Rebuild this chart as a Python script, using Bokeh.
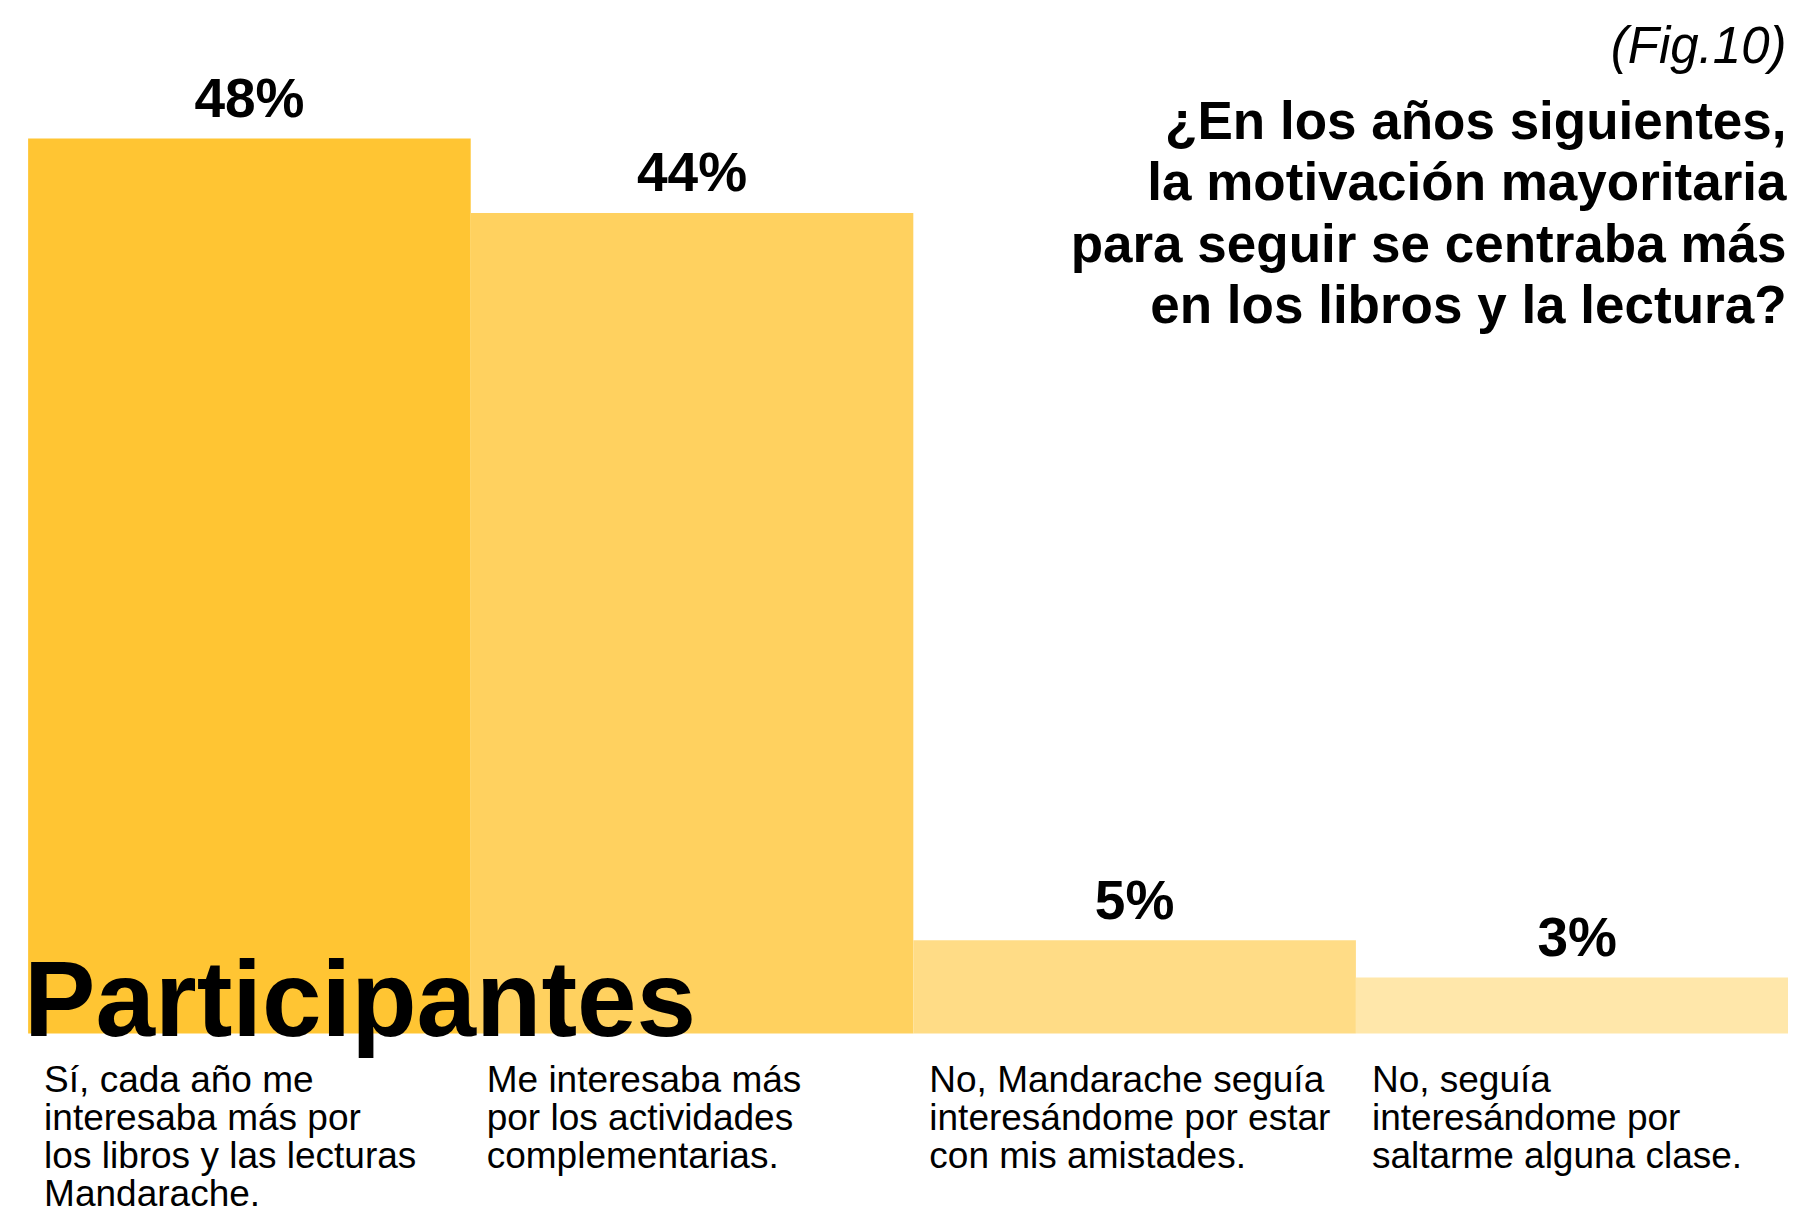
from bokeh.plotting import figure
from bokeh.models import ColumnDataSource, Range1d, Label
from bokeh.core.properties import value
from bokeh.embed import file_html
from bokeh.resources import INLINE
import numpy as np

# ---- data ----
values = [48, 44, 5, 3]
value_labels = ["48%", "44%", "5%", "3%"]
category_lines = [
    ["Sí, cada año me", "interesaba más por", "los libros y las lecturas", "Mandarache."],
    ["Me interesaba más", "por los actividades", "complementarias."],
    ["No, Mandarache seguía", "interesándome por estar", "con mis amistades."],
    ["No, seguía", "interesándome por", "saltarme alguna clase."],
]
bar_colors = ["#FFC533", "#FFD15F", "#FFDC86", "#FFE7AA"]
title_lines = [
    "¿En los años siguientes,",
    "la motivación mayoritaria",
    "para seguir se centraba más",
    "en los libros y la lectura?",
]
fig_label = "(Fig.10)"
big_label = "Participantes"

FONT = "Liberation Sans"
BL = 0.32  # baseline correction (em)

W, H = 1788, 1215
p = figure(width=W, height=H, output_backend="svg", toolbar_location=None,
           x_range=Range1d(-0.0624, 3.9774), y_range=Range1d(-9.76, 55.40),
           min_border=0, min_border_left=0, min_border_right=0,
           min_border_top=0, min_border_bottom=0)
p.axis.visible = False
p.grid.visible = False
p.outline_line_color = None
p.background_fill_color = "white"
p.border_fill_color = "white"

idx = np.arange(len(values))
bars = ColumnDataSource(dict(x=idx + 0.5, top=values, color=bar_colors, label=value_labels))
p.vbar(x="x", top="top", bottom=0, width=1.0, fill_color="color", line_color=None, source=bars)

# value labels above bars
VS = 55
p.text(x="x", y="top", text="label", source=bars, text_align="center",
       text_baseline="alphabetic", y_offset=-23 - BL * VS,
       text_font=value(FONT), text_font_style="bold", text_font_size=f"{VS}px",
       text_color="#000000")

# big "Participantes"
PS = 107
p.text(x=[0], y=[0], text=[big_label], text_align="left", text_baseline="alphabetic",
       x_offset=-4, y_offset=-BL * PS, text_font=value(FONT), text_font_style="bold",
       text_font_size=f"{PS}px", text_color="#000000")

# category labels below bars
CS = 37
cx, cy, ct, cyo = [], [], [], []
for i, lines in enumerate(category_lines):
    for k, line in enumerate(lines):
        cx.append(i)
        cy.append(0)
        ct.append(line)
        cyo.append(58 + k * 38 - BL * CS)
cat = ColumnDataSource(dict(x=cx, y=cy, text=ct, yo=cyo))
p.text(x="x", y="y", text="text", source=cat, x_offset=16, y_offset="yo",
       text_align="left", text_baseline="alphabetic",
       text_font=value(FONT), text_font_size=f"{CS}px", text_color="#000000")

# title
FS = 51
p.add_layout(Label(x=W - 2, y=H - 61 + BL * FS, x_units="screen", y_units="screen", text=fig_label,
                   text_align="right", text_baseline="alphabetic", text_font=FONT,
                   text_font_style="italic", text_font_size=f"{FS}px", text_color="#000000"))
TS = 53
for k, line in enumerate(title_lines):
    p.add_layout(Label(x=W - 2, y=H - (137 + k * 61.3) + BL * TS, x_units="screen", y_units="screen",
                       text=line, text_align="right", text_baseline="alphabetic",
                       text_font=FONT, text_font_style="bold", text_font_size=f"{TS}px",
                       text_color="#000000"))

open("out.html", "w").write(file_html(p, INLINE))
